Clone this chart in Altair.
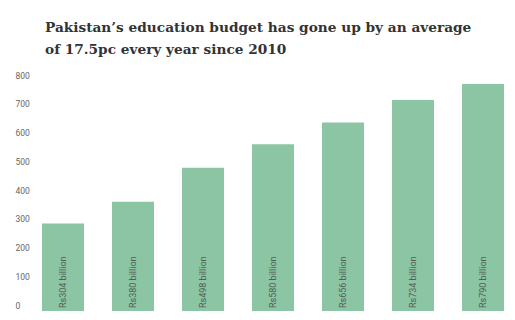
import altair as alt
import pandas as pd

years = ["2010-11", "2011-12", "2012-13", "2013-14", "2014-15", "2015-16", "2016-17"]
budget = [304, 380, 498, 580, 656, 734, 790]
labels = ["Rs304 billion", "Rs380 billion", "Rs498 billion", "Rs580 billion",
          "Rs656 billion", "Rs734 billion", "Rs790 billion"]
y_ticks = [0, 100, 200, 300, 400, 500, 600, 700, 800]

df = pd.DataFrame({"year": years, "budget": budget, "label": labels})

x_scale = alt.Scale(range=[27, 489], paddingInner=0.4, paddingOuter=0)
x_axis = alt.Axis(labelAngle=0, ticks=False, labelPadding=5, labelFontSize=9,
                  labelColor="#555555", labelFont="Roboto",
                  domainColor="#555555", domainWidth=1)
y_scale = alt.Scale(domain=[0, 800], nice=False)
y_axis = alt.Axis(values=y_ticks, grid=False, domain=False, ticks=False,
                  labelAlign="left", labelPadding=0, labelBaseline="alphabetic",
                  labelOffset=-3, labelOverlap=False,
                  labelFontSize=8.5, labelColor="#666666", labelFont="Roboto")

bars = alt.Chart(df).mark_bar(color="#8cc5a3").encode(
    x=alt.X("year:N", sort=years, title=None, scale=x_scale, axis=x_axis),
    y=alt.Y("budget:Q", title=None, scale=y_scale, axis=y_axis))
text = alt.Chart(df).mark_text(angle=270, align="left", baseline="middle", dx=3,
                               fontSize=9, font="Roboto", color="#4f5f56").encode(
    x=alt.X("year:N", sort=years, title=None, scale=x_scale, axis=x_axis),
    y=alt.YDatum(0, title=None, scale=y_scale, axis=y_axis),
    text="label:N")

chart = (bars + text).properties(
    width=500, height=230,
    autosize=alt.AutoSizeParams(type="none"),
    padding={"left": 15, "top": 81, "right": 0, "bottom": 0},
    title=alt.TitleParams(
        ["Pakistan\u2019s education budget has gone up by an average",
         "of 17.5pc every year since 2010"],
        anchor="start", frame="group", dx=30, offset=3, font="DejaVu Serif",
        fontSize=13.7, fontWeight="bold", color="#333333", lineHeight=22,
        baseline="alphabetic"),
).configure_view(stroke=None)

chart.save("out.html", embed_options={"renderer": "svg", "actions": False})
